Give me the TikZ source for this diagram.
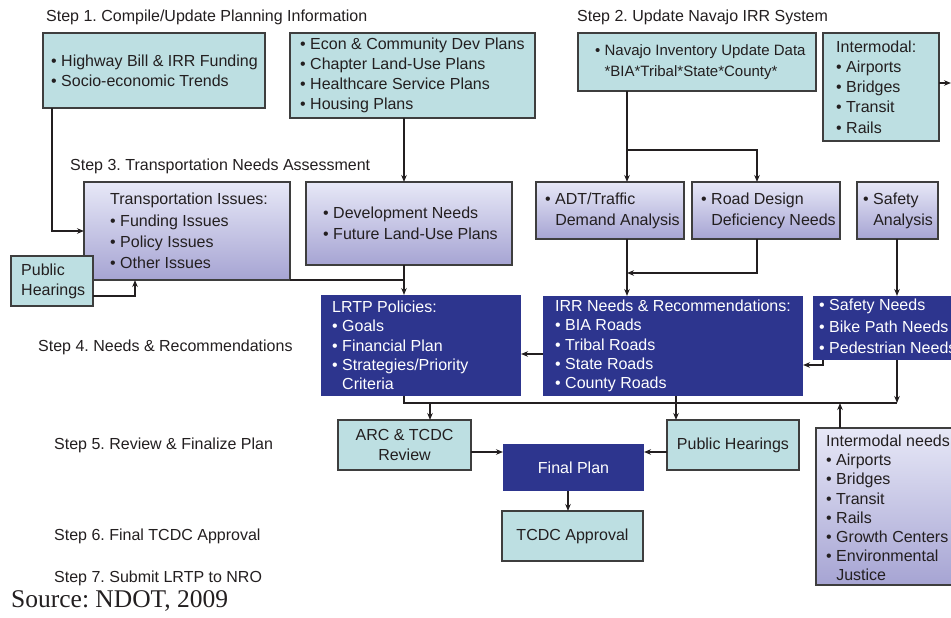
\documentclass[tikz,border=0pt]{standalone}
\usepackage{fontspec}
\setmainfont{Liberation Sans}
\newfontfamily\srcserif{Liberation Serif}
\usetikzlibrary{arrows.meta}

\definecolor{boxteal}{RGB}{189,223,226}
\definecolor{lavtop}{RGB}{231,232,247}
\definecolor{lavbot}{RGB}{166,164,211}
\definecolor{planblue}{RGB}{45,53,142}
\definecolor{boxedge}{RGB}{62,62,62}
\definecolor{ink}{RGB}{35,31,32}

\begin{document}
\frenchspacing
\begin{tikzpicture}[x=1pt,y=-1pt,
  tealbox/.style={draw=boxedge, line width=1.2pt, fill=boxteal, inner sep=0pt, outer sep=0pt},
  lavbox/.style={draw=boxedge, line width=1.2pt, top color=lavtop, bottom color=lavbot, inner sep=0pt, outer sep=0pt},
  navybox/.style={fill=planblue, draw=none, inner sep=0pt, outer sep=0pt},
  boxtxt/.style={text=ink, font=\fontsize{16}{20.2}\selectfont, align=left, inner sep=0pt, anchor=west},
  widetxt/.style={boxtxt, font=\fontsize{16}{21.2}\selectfont},
  navytxt/.style={boxtxt, text=white, font=\fontsize{16}{19.3}\selectfont},
  steplbl/.style={text=ink, font=\fontsize{16}{19}\selectfont, inner sep=0pt, anchor=base west},
  link/.style={draw=ink, line width=1.2pt},
  arr/.style={link, -{Stealth[length=7pt,width=5.5pt]}}
]
\clip (0,0) rectangle (951,618);
\fill[white] (0,0) rectangle (951,618);

% step captions
\node[steplbl] (s1) at (46,21.7) {Step 1. Compile/Update Planning Information};
\node[steplbl] (s2) at (577,21.7) {Step 2. Update Navajo IRR System};
\node[steplbl] (s3) at (70,170.7) {Step 3. Transportation Needs Assessment};
\node[steplbl] (s4) at (38,351.7) {Step 4. Needs \& Recommendations};
\node[steplbl] (s5) at (54,449) {Step 5. Review \& Finalize Plan};
\node[steplbl] (s6) at (54,540.7) {Step 6. Final TCDC Approval};
\node[steplbl] (s7) at (54,582.3) {Step 7. Submit LRTP to NRO};
\node[anchor=base west, inner sep=0pt, text=ink, font=\srcserif\fontsize{25.5}{28}\selectfont] (src) at (11,607) {Source: NDOT, 2009};

% step 1 boxes
\node[tealbox, minimum width=222, minimum height=75] (A) at (154,70.5) {};
\node[boxtxt] (At) at ([xshift=8]A.west) {• Highway Bill \& IRR Funding\\• Socio-economic Trends};
\node[tealbox, minimum width=245, minimum height=85] (B) at (412.5,75.5) {};
\node[boxtxt] (Bt) at ([xshift=10]B.west) {• Econ \& Community Dev Plans\\• Chapter Land-Use Plans\\• Healthcare Service Plans\\• Housing Plans};

% step 2 boxes
\node[tealbox, minimum width=238, minimum height=58] (C) at (697,62) {};
\node[boxtxt, font=\fontsize{15}{20.5}\selectfont] (Ct) at ([xshift=17]C.west) {• Navajo Inventory Update Data\\\phantom{• }*BIA*Tribal*State*County*};
\node[tealbox, minimum width=116, minimum height=108] (D) at (881,87) {};
\node[boxtxt] (Dt) at ([xshift=13]D.west) {Intermodal:\\• Airports\\• Bridges\\• Transit\\• Rails};

% step 3 boxes
\node[lavbox, minimum width=206, minimum height=98] (E) at (187,231) {};
\node[widetxt] (Et) at ([xshift=26]E.west) {Transportation Issues:\\• Funding Issues\\• Policy Issues\\• Other Issues};
\node[lavbox, minimum width=206, minimum height=83] (F) at (409,223.5) {};
\node[widetxt] (Ft) at ([xshift=17]F.west) {• Development Needs\\• Future Land-Use Plans};
\node[tealbox, minimum width=82, minimum height=50] (PH1) at (52,281) {};
\node[boxtxt] (PH1t) at ([xshift=10]PH1.west) {Public\\Hearings};
\node[lavbox, minimum width=148, minimum height=57] (ADT) at (610,210.5) {};
\node[widetxt] (ADTt) at ([xshift=9]ADT.west) {• ADT/Traffic\\\phantom{• }Demand Analysis};
\node[lavbox, minimum width=148, minimum height=57] (RD) at (766,210.5) {};
\node[widetxt] (RDt) at ([xshift=9]RD.west) {• Road Design\\\phantom{• }Deficiency Needs};
\node[lavbox, minimum width=81, minimum height=57] (SA) at (897.5,210.5) {};
\node[widetxt] (SAt) at ([xshift=6]SA.west) {• Safety\\\phantom{• }Analysis};

% step 4 boxes
\node[navybox, minimum width=200, minimum height=101] (LRTP) at (421,345.5) {};
\node[navytxt] (LRTPt) at ([xshift=11]LRTP.west) {LRTP Policies:\\• Goals\\• Financial Plan\\• Strategies/Priority\\\phantom{• }Criteria};
\node[navybox, minimum width=260, minimum height=100] (IRR) at (673,346) {};
\node[navytxt] (IRRt) at ([xshift=12]IRR.west) {IRR Needs \& Recommendations:\\• BIA Roads\\• Tribal Roads\\• State Roads\\• County Roads};
\node[navybox, minimum width=152, minimum height=64] (SN) at (889,328) {};
\node[navytxt, font=\fontsize{16}{21.5}\selectfont] (SNt) at ([xshift=6,yshift=1.5]SN.west) {• Safety Needs\\• Bike Path Needs\\• Pedestrian Needs};

% steps 5 and 6 boxes
\node[tealbox, minimum width=133, minimum height=50, align=center, text=ink, font=\fontsize{16}{20}\selectfont] (ARC) at (404.5,445) {ARC \& TCDC\\Review};
\node[tealbox, minimum width=132, minimum height=50, text=ink, font=\fontsize{16}{20}\selectfont] (PH2) at (733,445) {Public Hearings};
\node[navybox, minimum width=141, minimum height=47, text=white, font=\fontsize{16}{20}\selectfont] (FP) at (573.5,467.5) {Final Plan};
\node[tealbox, minimum width=141, minimum height=50, text=ink, font=\fontsize{16}{20}\selectfont] (TA) at (572.5,536) {TCDC Approval};
\node[lavbox, minimum width=146, minimum height=157] (IN) at (889,506.5) {};
\node[boxtxt, font=\fontsize{16}{19.2}\selectfont] (INt) at ([xshift=10,yshift=-1.5]IN.west) {Intermodal needs:\\• Airports\\• Bridges\\• Transit\\• Rails\\• Growth Centers\\• Environmental\\\phantom{• }Justice};

% connector junctions
\coordinate (split) at (627,150);
\coordinate (merge) at (627,273);
\coordinate (busL) at (404,403);
\coordinate (busR) at (897,403);
\coordinate (arcdrop) at (430,403);
\coordinate (inup) at (840,403);
\coordinate (dout) at (951,83);

% step 1 -> step 3
\draw[arr] ([xshift=9]A.south west) |- (E.west);
\draw[arr] (B.south -| 404,0) -- (F.north -| 404,0);
\draw[arr] (PH1.east |- 0,296) -| (E.south -| 135,0);

% step 3 -> LRTP
\draw[link] (E.south east) -- (404,280);
\draw[arr] (F.south -| 404,0) -- (LRTP.north -| 404,0);

% step 2 -> step 3
\draw[arr] (C.south -| split) -- (ADT.north -| split);
\draw[arr] (split) -| (RD.north -| 757,0);
\draw[arr] (D.east |- dout) -- (dout);

% step 3 -> step 4
\draw[arr] (ADT.south -| merge) -- (IRR.north -| merge);
\draw[arr] (RD.south -| 757,0) |- (merge);
\draw[arr] (SA.south -| busR) -- (SN.north -| busR);
\draw[arr] (SN.south -| 823,0) |- (IRR.east |- 0,365);
\draw[arr] (IRR.west |- 0,354) -- (LRTP.east |- 0,354);

% review bus
\draw[link] (LRTP.south -| busL) -- (busL) -- (busR);
\draw[arr] (SN.south -| busR) -- (busR);
\draw[arr] (arcdrop) -- (ARC.north -| arcdrop);
\draw[arr] (IRR.south -| 676,0) -- (PH2.north -| 676,0);
\draw[arr] (IN.north -| inup) -- (inup);

% final plan
\draw[arr] (ARC.east |- 0,452) -- (FP.west |- 0,452);
\draw[arr] (PH2.west |- 0,452) -- (FP.east |- 0,452);
\draw[arr] (FP.south -| 568,0) -- (TA.north -| 568,0);
\end{tikzpicture}
\end{document}
